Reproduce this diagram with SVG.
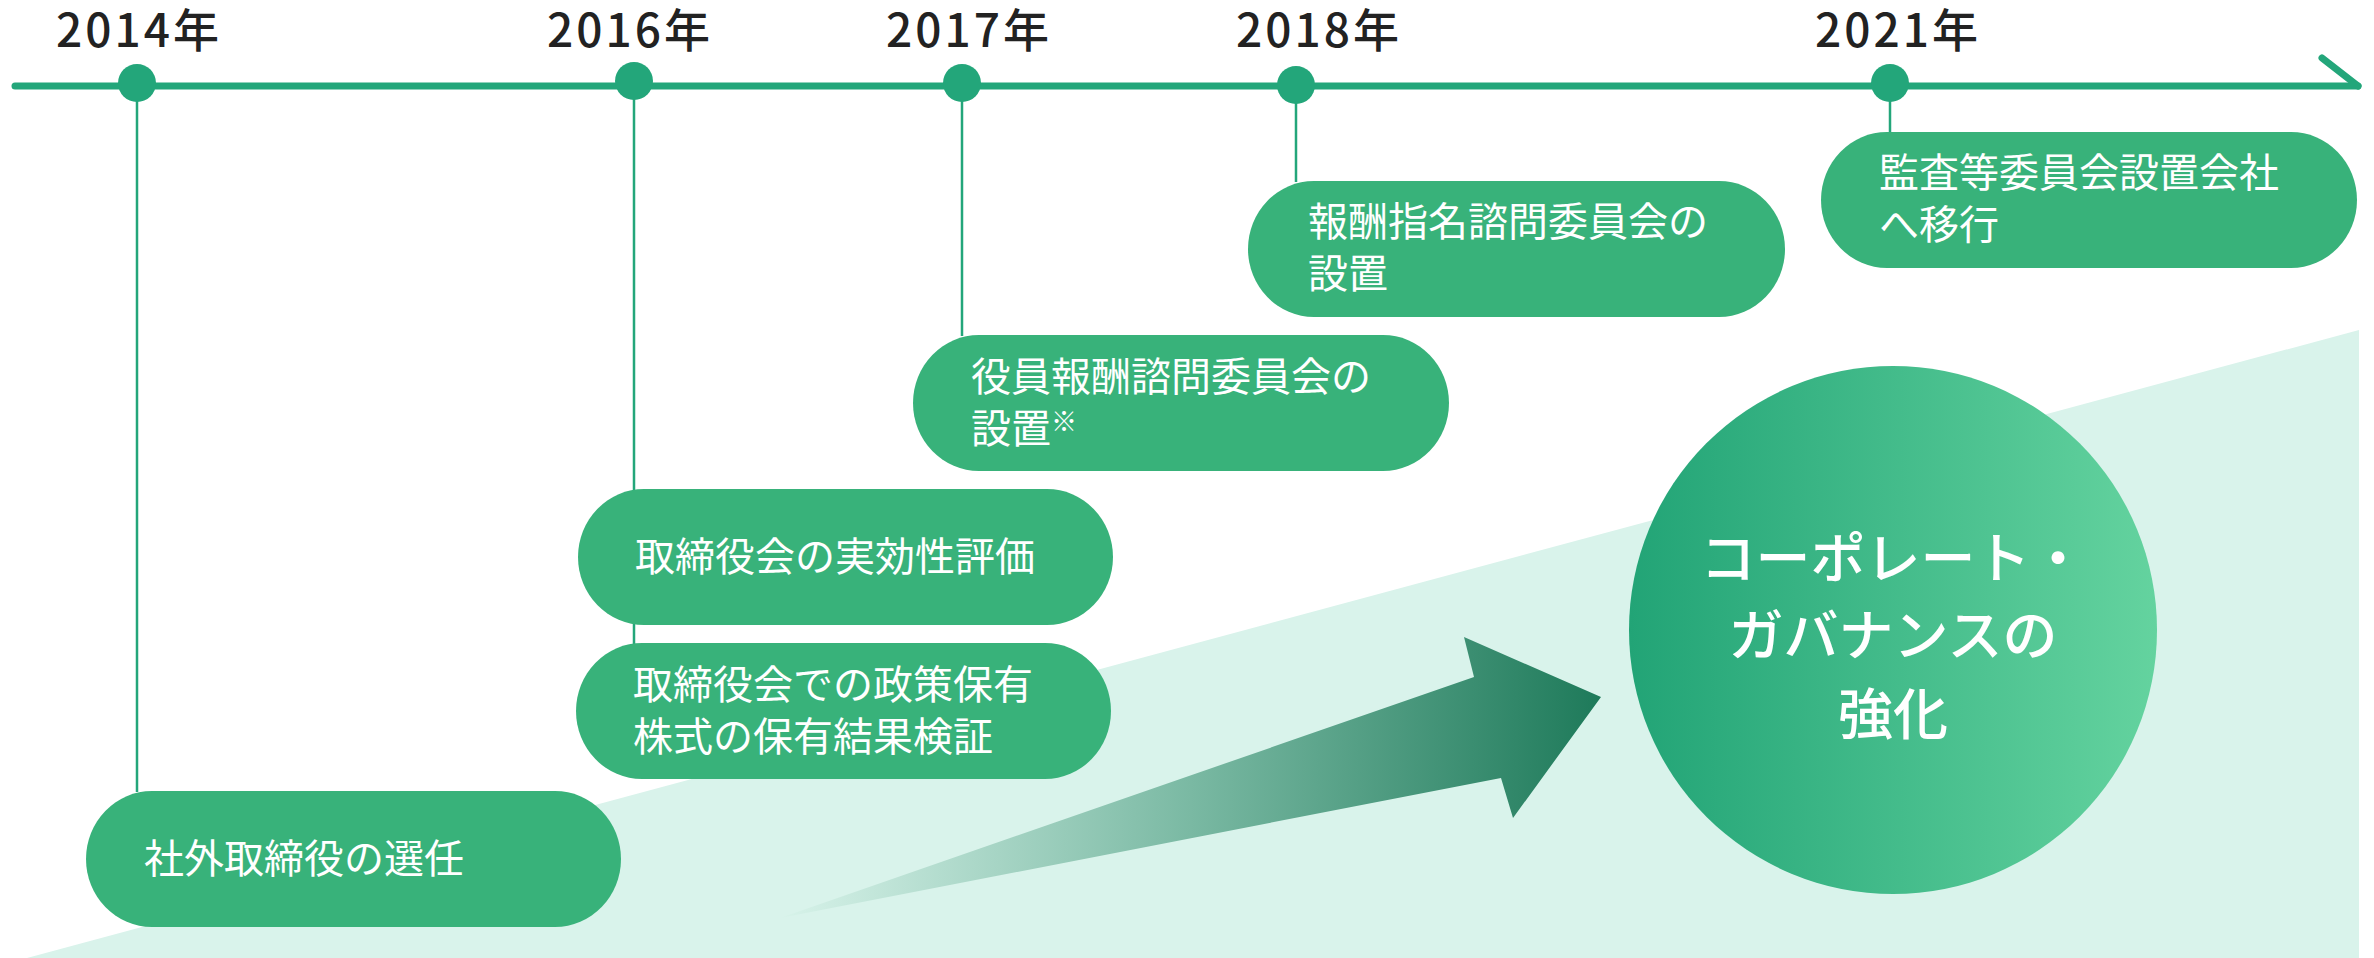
<svg xmlns="http://www.w3.org/2000/svg" width="2374" height="958" viewBox="0 0 2374 958">
  <defs>
    <style>
      .year { font-family: "Noto Sans CJK JP", "Noto Sans", sans-serif; font-size: 46px; font-weight: 500; fill: #222222; text-anchor: middle; letter-spacing: 3px; }
      .pill { fill: #38b27a; }
      .ptext { font-family: "Noto Sans CJK JP", "Noto Sans", sans-serif; font-size: 40px; fill: #ffffff; }
      .ctext { font-family: "Noto Sans CJK JP", "Noto Sans", sans-serif; font-size: 55px; font-weight: 500; fill: #ffffff; text-anchor: middle; }
      .stem { stroke: #23a67a; stroke-width: 2.5; fill: none; }
      .dot { fill: #23a67a; }
    </style>
    <linearGradient id="circGrad" x1="0" y1="0" x2="1" y2="0">
      <stop offset="0" stop-color="#22a476"/>
      <stop offset="1" stop-color="#64d39f"/>
    </linearGradient>
    <linearGradient id="arrowGrad" gradientUnits="userSpaceOnUse" x1="780" y1="0" x2="1601" y2="0">
      <stop offset="0" stop-color="#d8f3ea"/>
      <stop offset="0.5" stop-color="#7ab9a3"/>
      <stop offset="1" stop-color="#1e7a5a"/>
    </linearGradient>
  </defs>

  <rect x="0" y="0" width="2374" height="958" fill="#ffffff"/>

  <g id="background">
    <polygon points="27,958 2359,330 2359,958" fill="#d9f3eb"/>
    <polygon id="big-arrow" points="780,918 1474,677 1464,637 1601,697 1513,818 1501,778" fill="url(#arrowGrad)"/>
  </g>

  <g id="connectors">
    <line class="stem" x1="137" y1="84" x2="137" y2="792"/>
    <line class="stem" x1="634" y1="82" x2="634" y2="644"/>
    <line class="stem" x1="962" y1="84" x2="962" y2="336"/>
    <line class="stem" x1="1296" y1="86" x2="1296" y2="182"/>
    <line class="stem" x1="1890" y1="84" x2="1890" y2="133"/>
  </g>

  <g id="timeline">
    <line x1="15" y1="86" x2="2358" y2="86" stroke="#23a67a" stroke-width="7" stroke-linecap="round"/>
    <polyline points="2322,58 2358,86" fill="none" stroke="#23a67a" stroke-width="7" stroke-linecap="round"/>
  </g>

  <g id="year-2014">
    <circle class="dot" cx="137" cy="83" r="19"/>
    <text class="year" x="139" y="47">2014年</text>
  </g>
  <g id="year-2016">
    <circle class="dot" cx="634" cy="81" r="19"/>
    <text class="year" x="630" y="47">2016年</text>
  </g>
  <g id="year-2017">
    <circle class="dot" cx="962" cy="83" r="19"/>
    <text class="year" x="969" y="47">2017年</text>
  </g>
  <g id="year-2018">
    <circle class="dot" cx="1296" cy="85" r="19"/>
    <text class="year" x="1319" y="47">2018年</text>
  </g>
  <g id="year-2021">
    <circle class="dot" cx="1890" cy="83" r="19"/>
    <text class="year" x="1898" y="47">2021年</text>
  </g>

  <g id="node-2014">
    <rect class="pill" x="86" y="791" width="535" height="136" rx="66" ry="68"/>
    <text class="ptext" x="144" y="873">社外取締役の選任</text>
  </g>

  <g id="node-2016-a">
    <rect class="pill" x="578" y="489" width="535" height="136" rx="66" ry="68"/>
    <text class="ptext" x="635" y="571">取締役会の実効性評価</text>
  </g>

  <g id="node-2016-b">
    <rect class="pill" x="576" y="643" width="535" height="136" rx="66" ry="68"/>
    <text class="ptext" x="633" y="699">取締役会での政策保有</text>
    <text class="ptext" x="633" y="751">株式の保有結果検証</text>
  </g>

  <g id="node-2017">
    <rect class="pill" x="913" y="335" width="536" height="136" rx="66" ry="68"/>
    <text class="ptext" x="971" y="391">役員報酬諮問委員会の</text>
    <text class="ptext" x="971" y="443">設置<tspan font-size="26" dy="-12">※</tspan></text>
  </g>

  <g id="node-2018">
    <rect class="pill" x="1248" y="181" width="537" height="136" rx="66" ry="68"/>
    <text class="ptext" x="1308" y="236">報酬指名諮問委員会の</text>
    <text class="ptext" x="1308" y="288">設置</text>
  </g>

  <g id="node-2021">
    <rect class="pill" x="1821" y="132" width="536" height="136" rx="66" ry="68"/>
    <text class="ptext" x="1879" y="187">監査等委員会設置会社</text>
    <text class="ptext" x="1879" y="239">へ移行</text>
  </g>

  <g id="node-goal">
    <circle cx="1893" cy="630" r="264" fill="url(#circGrad)"/>
    <text class="ctext" x="1893" y="578">コーポレート・</text>
    <text class="ctext" x="1893" y="655">ガバナンスの</text>
    <text class="ctext" x="1893" y="734">強化</text>
  </g>
</svg>
